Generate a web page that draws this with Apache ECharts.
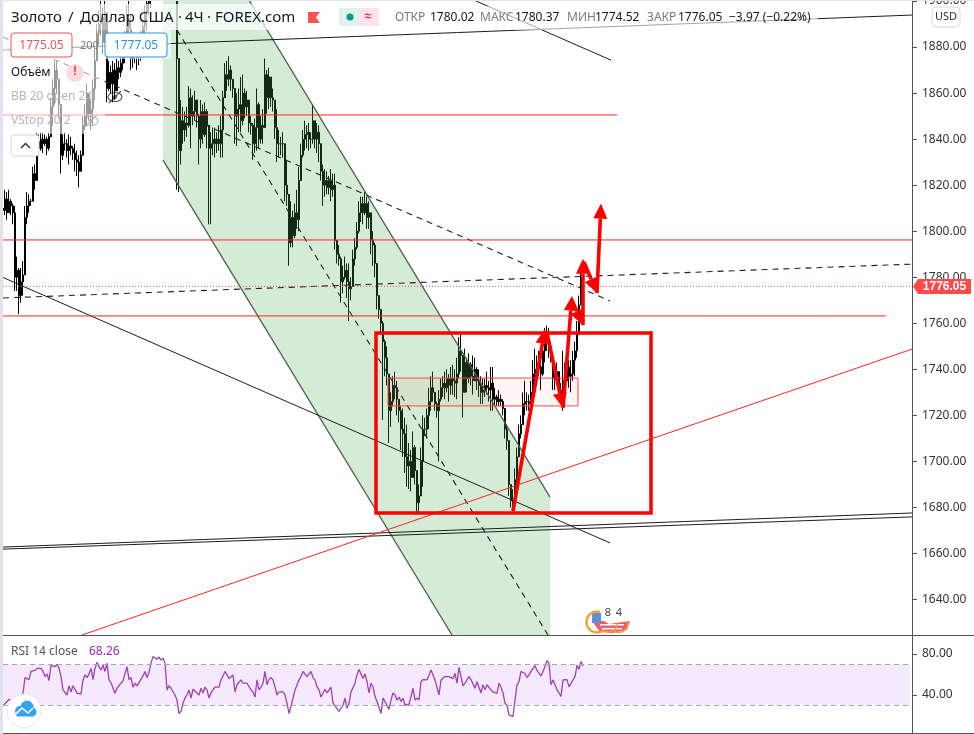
<!DOCTYPE html>
<html lang="ru">
<head>
  <meta charset="UTF-8">
  <title>Золото / Доллар США</title>
  <script src="https://cdn.jsdelivr.net/npm/echarts@6/dist/echarts.min.js"></script>
  <style>
    html, body { margin: 0; padding: 0; background: #fff; overflow: hidden; }
    #main { width: 974px; height: 734px; }
  </style>
</head>
<body>
<div id="main"></div>
<script>
// 4H bars, 2px apart, oldest first
const highs = [
  1816,1818,1817,1818,1814,1812,1811,1789,1784,1784,
  1787,1811,1817,1816,1814,1828,1829,1843,1842,1843,
  1843,1842,1841,1843,1858,1866,1874,1874,1866,1844,
  1842,1843,1840,1842,1841,1837,1838,1835,1833,1835,
  1850,1855,1864,1859,1857,1866,1879,1890,1896,1900,
  1897,1902,1877,1874,1872,1874,1873,1875,1874,1876,
  1881,1887,1898,1903,1894,1885,1881,1883,1881,1887,
  1892,1898,1904,1905,1906,1912,1915,1918,1920,1918,
  1916,1919,1922,1920,1917,1914,1912,1912,1874,1857,
  1854,1852,1854,1863,1862,1859,1861,1857,1851,1857,
  1855,1856,1853,1843,1843,1845,1845,1843,1846,1850,
  1861,1873,1874,1876,1872,1866,1860,1860,1862,1867,
  1868,1862,1861,1853,1850,1847,1849,1862,1856,1850,
  1853,1875,1870,1871,1866,1862,1856,1853,1844,1841,
  1843,1832,1831,1809,1813,1809,1812,1818,1828,1838,
  1844,1848,1846,1847,1843,1855,1848,1847,1846,1832,
  1829,1827,1826,1824,1827,1825,1825,1795,1794,1789,
  1785,1789,1786,1786,1780,1792,1797,1804,1813,1815,
  1815,1817,1815,1813,1806,1800,1795,1779,1770,1765,
  1761,1753,1750,1734,1730,1737,1739,1735,1727,1724,
  1723,1719,1716,1708,1705,1713,1707,1694,1690,1706,
  1720,1719,1723,1732,1737,1739,1729,1726,1731,1736,
  1737,1739,1740,1738,1741,1742,1740,1745,1754,1755,
  1743,1749,1745,1747,1743,1746,1745,1741,1740,1737,
  1736,1736,1739,1735,1741,1741,1732,1729,1731,1729,
  1727,1720,1716,1708,1690,1688,1697,1706,1716,1720,
  1730,1735,1730,1729,1735,1744,1749,1746,1748,1745,
  1754,1758,1759,1758,1752,1747,1741,1743,1737,1734,
  1748,1743,1745,1744,1744,1748,1752,1761,1772,1783,
  1780.37
];
const lows = [
  1804,1807,1805,1808,1807,1803,1774,1774,1764,1769,
  1772,1787,1803,1808,1811,1815,1818,1825,1833,1835,
  1834,1837,1833,1835,1843,1846,1855,1860,1849,1825,
  1831,1835,1832,1829,1833,1831,1826,1824,1819,1826,
  1835,1844,1846,1848,1844,1846,1857,1874,1881,1885,
  1877,1887,1856,1861,1860,1856,1857,1863,1866,1867,
  1870,1873,1877,1883,1870,1871,1873,1870,1872,1874,
  1879,1885,1887,1894,1897,1902,1904,1905,1908,1907,
  1905,1907,1910,1908,1906,1904,1902,1818,1817,1829,
  1838,1839,1841,1845,1836,1846,1848,1845,1829,1836,
  1838,1841,1836,1803,1803,1833,1832,1834,1835,1832,
  1832,1860,1861,1863,1861,1858,1838,1837,1843,1843,
  1846,1849,1850,1843,1842,1831,1834,1835,1836,1838,
  1838,1848,1851,1853,1854,1852,1840,1830,1832,1833,
  1832,1813,1811,1785,1793,1793,1797,1801,1800,1828,
  1832,1835,1836,1835,1836,1838,1836,1834,1830,1822,
  1811,1815,1816,1816,1813,1815,1792,1786,1785,1769,
  1773,1779,1771,1761,1770,1776,1785,1792,1799,1804,
  1803,1807,1801,1801,1790,1785,1780,1766,1762,1755,
  1718,1737,1733,1708,1715,1724,1727,1720,1717,1705,
  1702,1695,1689,1688,1687,1693,1690,1677,1678,1691,
  1689,1711,1710,1714,1722,1726,1722,1719,1700,1726,
  1728,1727,1730,1726,1729,1729,1728,1727,1736,1739,
  1719,1734,1730,1734,1733,1729,1735,1731,1728,1725,
  1725,1728,1729,1726,1722,1722,1724,1724,1724,1724,
  1720,1710,1705,1685,1680,1679,1685,1684,1708,1710,
  1719,1720,1722,1722,1725,1727,1730,1735,1737,1731,
  1737,1743,1748,1745,1743,1731,1731,1736,1728,1726,
  1722,1730,1736,1732,1730,1735,1737,1745,1755,1771,
  1774.52
];
const closes = [
  1809,1814,1808,1813,1811,1808,1780,1783,1772,1778,
  1781,1806,1811,1813,1813,1825,1822,1839,1836,1840,
  1838,1840,1836,1841,1854,1862,1870,1866,1855,1833,
  1838,1838,1835,1837,1836,1834,1831,1830,1826,1833,
  1846,1850,1860,1851,1853,1862,1874,1886,1890,1893,
  1882,1895,1862,1869,1864,1870,1861,1871,1869,1873,
  1878,1884,1892,1888,1875,1880,1876,1879,1876,1884,
  1889,1895,1899,1900,1904,1908,1911,1913,1915,1910,
  1913,1912,1918,1911,1913,1907,1908,1875,1835,1848,
  1844,1847,1846,1858,1850,1852,1857,1850,1840,1852,
  1842,1852,1846,1836,1838,1840,1838,1840,1838,1844,
  1858,1868,1866,1870,1866,1862,1850,1853,1855,1848,
  1860,1854,1857,1847,1846,1838,1845,1855,1840,1846,
  1845,1868,1858,1867,1858,1857,1845,1838,1838,1838,
  1838,1820,1816,1795,1806,1798,1808,1805,1822,1833,
  1840,1842,1843,1840,1840,1848,1840,1843,1838,1826,
  1820,1822,1819,1822,1818,1820,1796,1790,1788,1778,
  1780,1783,1778,1775,1776,1788,1793,1800,1808,1812,
  1808,1812,1806,1808,1796,1794,1786,1772,1766,1760,
  1752,1745,1738,1722,1726,1733,1732,1727,1722,1714,
  1712,1702,1698,1700,1693,1706,1696,1682,1685,1700,
  1714,1714,1720,1726,1732,1730,1725,1722,1727,1732,
  1734,1732,1736,1733,1736,1735,1734,1738,1748,1746,
  1730,1743,1736,1742,1737,1735,1740,1735,1733,1730,
  1731,1733,1732,1731,1734,1727,1728,1726,1727,1726,
  1723,1714,1709,1690,1683,1682,1692,1702,1712,1716,
  1725,1726,1726,1725,1730,1738,1740,1742,1741,1738,
  1748,1752,1752,1750,1745,1736,1736,1739,1731,1729,
  1735,1735,1741,1737,1738,1744,1748,1755,1768,1780.02,
  1776.05
];
const rsiValues = [
  29.4,28,33.6,36,34,35,32,33.6,37,38.5,41.7,57,58.6,55,63,64.5,64,66,65,66,
  63,58,60.6,54,69,69.7,67.7,70,66,58,45,44,40,49,43,49,45.6,41.7,43,41,
  54.7,59.6,57,60.6,66,55,66,72,67.7,64.5,69,63,71,54.7,52,51,41.7,46.6,45,51.5,
  53.8,54.7,67.7,55,57,47.6,51.5,49,52,53,58.6,63,57,62,71,77.5,76,75,77,74,
  76,71,45,49,46.6,47.6,40,35,22,24,32,37,40,45,37,45.6,46.6,42,40,46.6,
  42,47.6,45,37,42,45,47.6,48,47.6,54.7,56,63,64,56,54.7,59.6,43,50,49,54.7,
  51.5,50,51.5,50,45,43,38,54.7,45,47.6,51.5,63,50,55,57,54.7,48,40,43,42,
  43,40,32,22,29,37,45,44,54.7,58,63,64,58,59.6,63,57,54.7,48,45,38,
  38,45.6,42,41,
  47.6,32,29.4,29,24,23,30,37,27,32,43,44,51.5,59.6,65,66,56,60.6,53,42,
  51.5,48,38.5,33.6,32,22,37,33.6,32,26,35,42,40,35,38,33.6,37,30,29,31,
  38.5,46.6,35,37,35,53,55,54.7,54.7,59.6,64.5,59.6,54.7,54.7,40,54.7,56,58,58.6,58,
  59.6,56,61,51.5,67,67.7,49,51.5,50,58,55,54.7,46.6,53,51.5,42,50,45,50,51,
  45,43,42,41.7,51.5,47.6,42,32,30,20.6,19,19,35,50,53,63,64,61,57,59.6,
  63,63,68.7,64,63,58.6,63,67.7,73.6,71,50,54.7,50,45,42,38.5,54.7,56,55,48,
  49,54.7,58,69,65,72.6,68.26
];

const priceTicks = [1640,1660,1680,1700,1720,1740,1760,1780,1800,1820,1840,1860,1880,1900];
const rsiTicks = [40,80];
const lastPrice = 1776.05;

// drawings in [bar, price, bar, price]
const blackLines = [
  [0,1878.7,454.5,1893.9],
  [236.5,1900,304,1874.3],
  [0,1779.9,303.5,1664.6],
  [0,1662.8,454.5,1677.6],
  [0,1661.9,454.5,1675.9]
];
const channelEdges = [
  [123,1900.4,273.5,1684.5],
  [80,1830.9,224.5,1624.6]
];
const dashedLines = [
  [0,1884.3,303.5,1769.7],
  [0,1771,454.5,1785.7],
  [87,1887.4,272.5,1624.6]
];
const redLines = [
  [0,1850.5,307,1850.5],
  [0,1796.2,454.5,1796.2],
  [0,1763.2,441.5,1763.2],
  [39.5,1624.6,454.5,1748.8]
];
const arrowLegs = [
  [255,1678.4,271,1757.6],
  [272,1755.8,280,1723.2],
  [280,1723.2,284.5,1772],
  [284.5,1770.1,290,1759.2],
  [290,1759.2,290,1788],
  [290.5,1786.6,297,1773.1],
  [297,1773.1,299,1812]
];
const channelFill = [[80,1900],[123,1900],[273.5,1684.5],[273.5,1624.6],[224.5,1624.6],[80,1830.9]];
const bigBox = [186.5,1755.8,324,1677.6];
const smallBox = [192.5,1736.2,287.5,1724.1];

const font = '"Noto Sans", sans-serif';
const barData = closes.map((c, i) => [i, i === 0 ? 1810 : closes[i - 1], c, lows[i], highs[i]]);
const rsiData = rsiValues.map((v, i) => [i, v]);

function lineSeries(name, rows, style, z) {
  return {
    name, type: 'custom', xAxisIndex: 0, yAxisIndex: 0, z, silent: true, clip: true,
    data: rows,
    renderItem(params, api) {
      const a = api.coord([api.value(0), api.value(1)]);
      const b = api.coord([api.value(2), api.value(3)]);
      return { type: 'line', shape: { x1: a[0], y1: a[1], x2: b[0], y2: b[1] }, style };
    }
  };
}

function boxSeries(name, box, style, z) {
  return {
    name, type: 'custom', xAxisIndex: 0, yAxisIndex: 0, z, silent: true,
    data: [box],
    renderItem(params, api) {
      const a = api.coord([api.value(0), api.value(1)]);
      const b = api.coord([api.value(2), api.value(3)]);
      return { type: 'rect', shape: { x: a[0], y: a[1], width: b[0] - a[0], height: b[1] - a[1] }, style };
    }
  };
}

// one straight leg with its triangle head
function arrowSeries(name, rows, z) {
  return {
    name, type: 'custom', xAxisIndex: 0, yAxisIndex: 0, z, silent: true,
    data: rows,
    renderItem(params, api) {
      const a = api.coord([api.value(0), api.value(1)]);
      const b = api.coord([api.value(2), api.value(3)]);
      const len = Math.hypot(b[0] - a[0], b[1] - a[1]);
      const ux = (b[0] - a[0]) / len, uy = (b[1] - a[1]) / len;
      const bx = b[0] - ux * 15, by = b[1] - uy * 15;
      return {
        type: 'group',
        children: [
          { type: 'line', shape: { x1: a[0], y1: a[1], x2: bx, y2: by }, style: { stroke: '#ff0000', lineWidth: 3.6 } },
          { type: 'polygon', shape: { points: [[b[0], b[1]], [bx - uy * 7, by + ux * 7], [bx + uy * 7, by - ux * 7]] }, style: { fill: '#ff0000' } }
        ]
      };
    }
  };
}

// overlay widgets of the chart window
function txt(x, y, text, fill, size, extra) {
  return { type: 'text', x, y, z: 50, silent: true,
    style: Object.assign({ text, fill, font: (size || 12) + 'px ' + font, verticalAlign: 'middle' }, extra || {}) };
}
function box(x, y, w, h, fill, stroke, r, extra) {
  return Object.assign({ type: 'rect', z: 45, silent: true, shape: { x, y, width: w, height: h, r: r || 0 },
    style: { fill, stroke: stroke || 'none', lineWidth: 1 } }, extra || {});
}
function eye(cx, cy, color) {
  return { type: 'group', z: 50, silent: true, children: [
    { type: 'ellipse', shape: { cx, cy, rx: 7, ry: 4.5 }, style: { fill: 'none', stroke: color, lineWidth: 1.2 } },
    { type: 'circle', shape: { cx, cy, r: 2 }, style: { fill: color } },
    { type: 'line', shape: { x1: cx - 6, y1: cy + 6, x2: cx + 6, y2: cy - 6 }, style: { stroke: color, lineWidth: 1.2 } }
  ] };
}
function dot(cx, cy, r, fill, z) {
  return { type: 'circle', z: z || 50, silent: true, shape: { cx, cy, r }, style: { fill } };
}
function orangeArc(cx, cy, r, startAngle, endAngle, lineWidth) {
  return { type: 'arc', z: 47, silent: true, shape: { cx, cy, r, startAngle, endAngle, clockwise: true },
    style: { fill: 'none', stroke: '#f7a034', lineWidth } };
}

const graphics = [
  box(0, 0, 3, 734, '#e0e3eb'),
  box(0, 0, 974, 1, '#e0e3eb'),
  // pane separators run on under the scale
  box(912, 635, 62, 1, '#50535e'),
  box(912, 733, 62, 1, '#50535e'),
  // white veils that dim the candles under the legend
  box(3, 4, 330, 26, 'rgba(255,255,255,0.72)'),
  box(3, 30, 168, 29, 'rgba(255,255,255,0.6)'),
  box(3, 59, 102, 75, 'rgba(255,255,255,0.6)'),
  box(390, 6, 428, 24, 'rgba(255,255,255,0.6)'),

  txt(11, 18, 'Золото', '#131722', 15),
  txt(68, 18, '/', '#131722', 15),
  txt(80, 18, 'Доллар США', '#131722', 15),
  txt(178, 18, '·', '#131722', 15),
  txt(185, 18, '4Ч', '#131722', 15),
  txt(207, 18, '·', '#131722', 15),
  txt(215, 18, 'FOREX.com', '#131722', 15),
  { type: 'polygon', z: 50, silent: true, shape: { points: [[308, 12], [320, 12], [316, 17.5], [320, 23], [308, 23]] }, style: { fill: '#ff5252' } },
  box(339, 8, 20, 18, '#dff3ee', null, 0),
  box(359, 8, 20, 18, '#fde4ec', null, 0),
  dot(350, 17, 3.5, '#089981'),
  txt(368, 17, '≈', '#e91e63', 13, { align: 'center', fontWeight: 'bold' }),

  txt(395, 18, 'ОТКР', '#787b86'), txt(430, 18, '1780.02', '#131722'),
  txt(480, 18, 'МАКС', '#787b86'), txt(515, 18, '1780.37', '#131722'),
  txt(567, 18, 'МИН', '#787b86'), txt(595, 18, '1774.52', '#131722'),
  txt(647, 18, 'ЗАКР', '#787b86'), txt(678, 18, '1776.05', '#131722'),
  txt(729, 18, '−3.97 (−0.22%)', '#131722'),

  box(11, 33, 61, 24, '#fff', '#ef5350', 3),
  txt(41.5, 45.5, '1775.05', '#ef5350', 12, { align: 'center' }),
  txt(80, 45.5, '200', '#787b86', 11),
  box(105, 33, 62, 24, '#fff', '#2196f3', 3),
  txt(136, 45.5, '1777.05', '#2196f3', 12, { align: 'center' }),

  txt(11, 73, 'Объём', '#131722'),
  dot(75, 73, 9, '#fbdcdc', 46),
  txt(75, 72, '!', '#f23645', 14, { align: 'center', fontWeight: 'bold' }),
  txt(11, 97, 'BB 20 open 2.0', '#b2b5be'),
  eye(115, 97, '#555'),
  txt(11, 121, 'VStop 20 2', '#b2b5be'),
  eye(91, 121, '#555'),
  box(11, 135, 28, 21, '#fff', '#d6d8e0', 3),
  { type: 'polyline', z: 50, silent: true, shape: { points: [[21, 148], [25.5, 143.5], [30, 148]] }, style: { fill: 'none', stroke: '#333', lineWidth: 1.5 } },

  // last price tag on the scale
  { type: 'polygon', z: 50, silent: true, shape: { points: [[913, 286.5], [918, 279], [971, 279], [971, 294], [918, 294]] }, style: { fill: '#ff4a4a' } },
  txt(944.5, 287, '1776.05', '#ffffff', 12.5, { align: 'center', fontWeight: 'bold' }),

  box(932, 7, 28, 20, '#fff', '#d6d8e0', 4),
  txt(946, 17, 'USD', '#333333', 11, { align: 'center' }),

  // logo bottom left
  { type: 'circle', z: 46, silent: true, shape: { cx: 24, cy: 711, r: 17 }, style: { fill: '#fff', stroke: '#e6e6ec', lineWidth: 1 } },
  dot(20, 711, 5, '#36a3f0'), dot(27, 707, 6.5, '#36a3f0'), dot(32, 712, 4.5, '#36a3f0'),
  box(16, 711, 18, 5.5, '#36a3f0', null, 2, { z: 50 }),
  { type: 'polyline', z: 51, silent: true, shape: { points: [[16, 714], [22, 708], [28, 713], [33, 708]] }, style: { fill: 'none', stroke: '#fff', lineWidth: 1.5 } },

  // watermark
  { type: 'polygon', z: 45, silent: true, shape: { points: [[592, 621], [604, 621], [609, 624], [630, 621], [627, 630], [612, 633], [600, 632]] }, style: { fill: '#ef5b6b' } },
  box(600, 624, 24, 1.5, '#fff', null, 0, { z: 46 }),
  box(602, 628, 20, 1.5, '#fff', null, 0, { z: 46 }),
  box(592, 613, 9, 10, '#5b8fd6', null, 0, { z: 46 }),
  orangeArc(597, 622, 10.5, 0.9, 5.0, 2.4),
  orangeArc(609, 624, 8, -0.2, 2.4, 1.5),
  orangeArc(619, 624, 8.5, -0.2, 2.4, 1.5),
  txt(608, 613, '8', '#444', 11, { align: 'center' }),
  txt(619, 613, '4', '#444', 11, { align: 'center' })
];

const chart = echarts.init(document.getElementById('main'), null, { renderer: 'canvas' });
chart.setOption({
  animation: false,
  backgroundColor: '#ffffff',
  textStyle: { fontFamily: font },
  grid: [
    { left: 3, top: 1, width: 909, height: 634, outerBoundsMode: 'none' },
    { left: 3, top: 636, width: 909, height: 97, outerBoundsMode: 'none' }
  ],
  xAxis: [
    { type: 'value', gridIndex: 0, min: 0, max: 454.5, splitLine: { show: false },
      axisTick: { show: false }, axisLabel: { show: false },
      axisLine: { show: true, onZero: false, lineStyle: { color: '#50535e', width: 1 } } },
    { type: 'value', gridIndex: 1, min: 0, max: 454.5, splitLine: { show: false },
      axisTick: { show: false }, axisLabel: { show: false },
      axisLine: { show: true, onZero: false, lineStyle: { color: '#50535e', width: 1 } } }
  ],
  yAxis: [
    { type: 'value', gridIndex: 0, position: 'right', min: 1624.6, max: 1900, splitLine: { show: false },
      axisLine: { show: true, onZero: false, lineStyle: { color: '#50535e', width: 1 } },
      axisTick: { show: true, length: 5, customValues: priceTicks, lineStyle: { color: '#50535e' } },
      axisLabel: { customValues: priceTicks, margin: 10, color: '#333', fontSize: 12, fontFamily: font,
        formatter: v => v.toFixed(2) } },
    { type: 'value', gridIndex: 1, position: 'right', min: 2.93, max: 97.56, splitLine: { show: false },
      axisLine: { show: true, onZero: false, lineStyle: { color: '#50535e', width: 1 } },
      axisTick: { show: true, length: 5, customValues: rsiTicks, lineStyle: { color: '#50535e' } },
      axisLabel: { customValues: rsiTicks, margin: 10, color: '#333', fontSize: 12, fontFamily: font,
        formatter: v => v.toFixed(2) } }
  ],
  graphic: graphics.concat([
    txt(11, 652, 'RSI 14 close', '#50535e'),
    txt(89, 652, '68.26', '#9c27b0')
  ]),
  series: [
    {
      name: 'Gold', type: 'candlestick', xAxisIndex: 0, yAxisIndex: 0, z: 2, silent: true,
      barWidth: 2,
      itemStyle: { color: '#000', color0: '#000', borderColor: '#000', borderColor0: '#000', borderWidth: 1 },
      encode: { x: 0, y: [1, 2, 3, 4] },
      data: barData
    },
    {
      name: 'channel', type: 'custom', xAxisIndex: 0, yAxisIndex: 0, z: 3, silent: true,
      data: [[0]],
      renderItem(params, api) {
        return { type: 'polygon', shape: { points: channelFill.map(p => api.coord(p)) },
          style: { fill: 'rgba(76,175,80,0.24)' } };
      }
    },
    lineSeries('channel edges', channelEdges, { stroke: '#4f5f52', lineWidth: 1.3 }, 4),
    lineSeries('trend', blackLines, { stroke: '#1c1c1c', lineWidth: 1 }, 4),
    lineSeries('dashed', dashedLines, { stroke: '#222', lineWidth: 1.1, lineDash: [6, 5] }, 4),
    lineSeries('levels', redLines, { stroke: '#f22', lineWidth: 1 }, 5),
    lineSeries('last', [[0, lastPrice, 454.5, lastPrice]], { stroke: '#ef5350', lineWidth: 1, lineDash: [1, 2] }, 5),
    boxSeries('small box', smallBox, { fill: 'rgba(255,60,40,0.05)', stroke: '#f44', lineWidth: 1 }, 5),
    boxSeries('big box', bigBox, { fill: 'none', stroke: '#ff0000', lineWidth: 3.5 }, 6),
    arrowSeries('arrows', arrowLegs, 7),
    {
      name: 'RSI', type: 'line', xAxisIndex: 1, yAxisIndex: 1, z: 3, silent: true, showSymbol: false,
      lineStyle: { color: '#a13fb8', width: 1.3 },
      data: rsiData,
      markArea: { silent: true, itemStyle: { color: '#f4e9fd' },
        data: [[{ coord: [0, 70] }, { coord: [453.5, 30] }]] },
      markLine: { silent: true, symbol: 'none', label: { show: false },
        lineStyle: { color: '#a8a8ae', type: [5, 4], width: 1 },
        data: [
          [{ coord: [0, 70] }, { coord: [453.5, 70] }],
          [{ coord: [0, 30] }, { coord: [453.5, 30] }]
        ] }
    }
  ]
});
</script>
</body>
</html>
